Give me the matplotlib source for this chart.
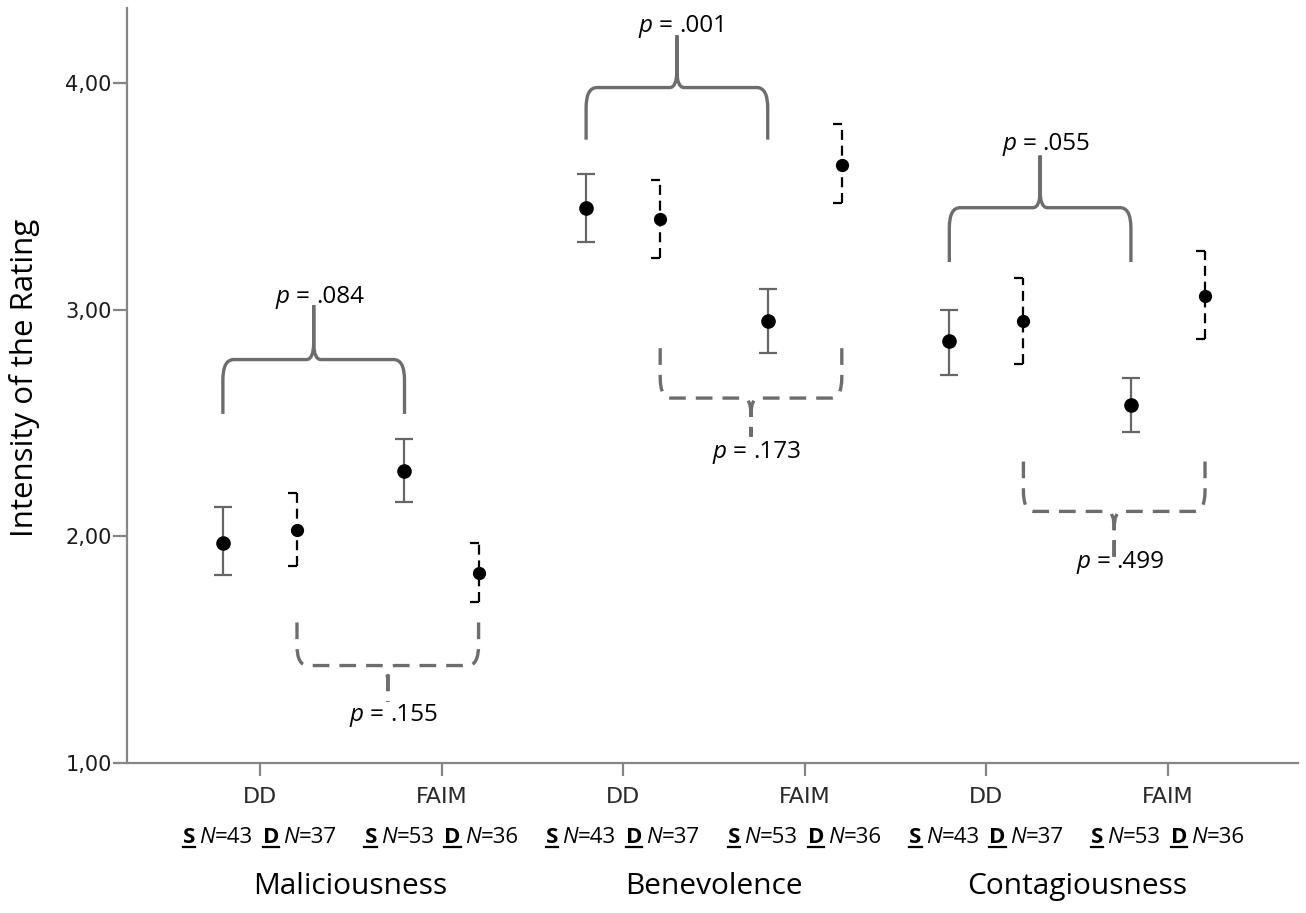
import numpy as np
import matplotlib
matplotlib.use("Agg")
import matplotlib.pyplot as plt
from matplotlib.path import Path
from matplotlib.patches import PathPatch
from matplotlib.lines import Line2D
import matplotlib.transforms as mtransforms

# ---------------- data ----------------
categories = ["Maliciousness", "Benevolence", "Contagiousness"]
conditions = ["DD", "FAIM", "DD", "FAIM", "DD", "FAIM"]

s_mean = [1.97, 2.29, 3.45, 2.95, 2.86, 2.58]
s_low = [1.83, 2.15, 3.30, 2.81, 2.71, 2.46]
s_high = [2.13, 2.43, 3.60, 3.09, 3.00, 2.70]

d_mean = [2.03, 1.84, 3.40, 3.64, 2.95, 3.06]
d_low = [1.87, 1.71, 3.23, 3.47, 2.76, 2.87]
d_high = [2.19, 1.97, 3.57, 3.82, 3.14, 3.26]

n_s = [43, 53, 43, 53, 43, 53]
n_d = [37, 36, 37, 36, 37, 36]

p_s = [".084", ".001", ".055"]
p_d = [".155", ".173", ".499"]

# brace levels (y values)
s_brace_end = [2.54, 3.75, 3.21]
s_brace_bar = [2.78, 3.98, 3.45]
s_brace_tip = [3.02, 4.21, 3.68]
s_label_y = [3.03, 4.225, 3.705]

d_brace_end = [1.62, 2.83, 2.33]
d_brace_bar = [1.43, 2.61, 2.11]
d_brace_tip = [1.27, 2.44, 1.91]
d_label_y = [1.185, 2.345, 1.86]

yticks = [1.0, 2.0, 3.0, 4.0]
ytick_labels = ["1,00", "2,00", "3,00", "4,00"]

# ---------------- layout ----------------
W, H, DPI = 1306, 913, 100
fig = plt.figure(figsize=(W / DPI, H / DPI), dpi=DPI)
ax = fig.add_axes([127 / W, 1 - 763 / H, (1298 - 127) / W, (763 - 8) / H])

GRAY = "#6d6d6d"
AXGRAY = "#858585"
OFF = 0.204

x = np.arange(len(conditions))
xs = x - OFF
xd = x + OFF

ax.set_xlim(-0.732, 5.716)
ax.set_ylim(1.0, 4.331)

# S series: solid gray error bars
ax.errorbar(xs, s_mean,
            yerr=[np.array(s_mean) - np.array(s_low), np.array(s_high) - np.array(s_mean)],
            fmt="none", ecolor="#666666", elinewidth=1.6, capsize=6.5, capthick=1.6, zorder=3)
ax.plot(xs, s_mean, "o", color="black", markersize=9.5, zorder=5)

# D series: dashed black error bars with half caps to the left
for xi, lo, hi in zip(xd, d_low, d_high):
    ax.plot([xi, xi], [lo, hi], color="black", lw=1.6, dashes=(4.5, 2.6), zorder=3)
halfcap = Path([(-1, 0), (0, 0)], [Path.MOVETO, Path.LINETO])
ax.plot(xd, d_low, linestyle="none", marker=halfcap, markersize=13,
        markeredgecolor="black", markeredgewidth=1.6, zorder=3)
ax.plot(xd, d_high, linestyle="none", marker=halfcap, markersize=13,
        markeredgecolor="black", markeredgewidth=1.6, zorder=3)
ax.plot(xd, d_mean, "o", color="black", markersize=8.5, zorder=5)


def brace(x0, x1, y_end, y_bar, y_tip, dashed=False):
    s = 1.0 if y_tip > y_bar else -1.0
    xm = (x0 + x1) / 2
    rx, ry = 0.06, 0.09
    tx, ty = 0.04, 0.075
    verts = [
        (x0, y_end), (x0, y_bar - s * ry), (x0, y_bar), (x0 + rx, y_bar),
        (xm - tx, y_bar), (xm, y_bar), (xm, y_bar + s * ty), (xm, y_tip),
        (x1, y_end), (x1, y_bar - s * ry), (x1, y_bar), (x1 - rx, y_bar),
        (xm + tx, y_bar), (xm, y_bar), (xm, y_bar + s * ty), (xm, y_tip),
    ]
    codes = [
        Path.MOVETO, Path.LINETO, Path.CURVE3, Path.CURVE3,
        Path.LINETO, Path.CURVE3, Path.CURVE3, Path.LINETO,
        Path.MOVETO, Path.LINETO, Path.CURVE3, Path.CURVE3,
        Path.LINETO, Path.CURVE3, Path.CURVE3, Path.LINETO,
    ]
    patch = PathPatch(Path(verts, codes), fill=False, edgecolor=GRAY, lw=2.4,
                      capstyle="butt", joinstyle="round", zorder=2)
    if dashed:
        patch.set_linestyle((0, (5, 3)))
    ax.add_patch(patch)
    return xm


renderer = fig.canvas.get_renderer()


def rich(xd_, yd_, trans, pieces, size, family, dx_px=0.0, color="black"):
    """pieces: (text, style-kwargs, underline, gap_after_pt)"""
    widths = []
    for txt, st, ul, gap in pieces:
        t = fig.text(0, 0, txt, fontsize=size, family=family, **st)
        widths.append(t.get_window_extent(renderer).width)
        t.remove()
    gaps = [p[3] * DPI / 72 for p in pieces]
    total = sum(widths) + sum(gaps[:-1])
    X, Y = trans.transform((xd_, yd_))
    cur = X - total / 2 + dx_px
    inv = fig.transFigure.inverted()
    for (txt, st, ul, gap), w, g in zip(pieces, widths, gaps):
        fx, fy = inv.transform((cur, Y))
        fig.text(fx, fy, txt, fontsize=size, family=family, ha="left",
                 va="baseline", color=color, **st)
        if ul:
            a = inv.transform((cur, Y - 4))
            b = inv.transform((cur + w, Y - 4))
            fig.add_artist(Line2D([a[0], b[0]], [a[1], b[1]], color=color,
                                  lw=1.6, transform=fig.transFigure))
        cur += w + g


FAM = ["Open Sans", "DejaVu Sans"]
ITAL = {"style": "italic"}
REG = {}
BOLD = {"weight": "bold"}

for g in range(len(categories)):
    i0, i1 = 2 * g, 2 * g + 1
    xm = brace(xs[i0], xs[i1], s_brace_end[g], s_brace_bar[g], s_brace_tip[g])
    rich(xm, s_label_y[g], ax.transData,
         [("p", ITAL, False, 4.5), ("=", REG, False, 4.5), (p_s[g], REG, False, 0)],
         17.5, FAM, dx_px=6)
    xm = brace(xd[i0], xd[i1], d_brace_end[g], d_brace_bar[g], d_brace_tip[g], dashed=True)
    rich(xm, d_label_y[g], ax.transData,
         [("p", ITAL, False, 4.5), ("=", REG, False, 4.5), (p_d[g], REG, False, 0)],
         17.5, FAM, dx_px=6)

# axes styling
for side in ["top", "right"]:
    ax.spines[side].set_visible(False)
for side in ["left", "bottom"]:
    ax.spines[side].set_color(AXGRAY)
    ax.spines[side].set_linewidth(1.6)

ax.set_yticks(yticks)
ax.set_yticklabels(ytick_labels, fontsize=15, family="DejaVu Sans", color="#1a1a1a")
ax.set_xticks(x)
ax.set_xticklabels(conditions, fontsize=16, family="DejaVu Sans", color="#2a2a2a")
ax.tick_params(axis="y", length=10, width=1.6, color=AXGRAY, pad=1)
ax.tick_params(axis="x", length=9, width=1.6, color=AXGRAY, pad=8)

# N rows
blend = mtransforms.blended_transform_factory(ax.transData, ax.transAxes)
for i in range(len(conditions)):
    rich(x[i], -0.106, blend,
         [("S", BOLD, True, 3), ("N", ITAL, False, 0), ("=%d" % n_s[i], REG, False, 7),
          ("D", BOLD, True, 3), ("N", ITAL, False, 0), ("=%d" % n_d[i], REG, False, 0)],
         16, FAM)

# group labels
for g, name in enumerate(categories):
    ax.text((x[2 * g] + x[2 * g + 1]) / 2, -0.164, name, transform=blend,
            ha="center", va="center", fontsize=21.5, family=FAM)

fig.text(25 / W, 1 - 378 / H, "Intensity of the Rating", rotation=90,
         ha="center", va="center", fontsize=22.5, family=FAM)

fig.savefig("out.png", dpi=DPI)
